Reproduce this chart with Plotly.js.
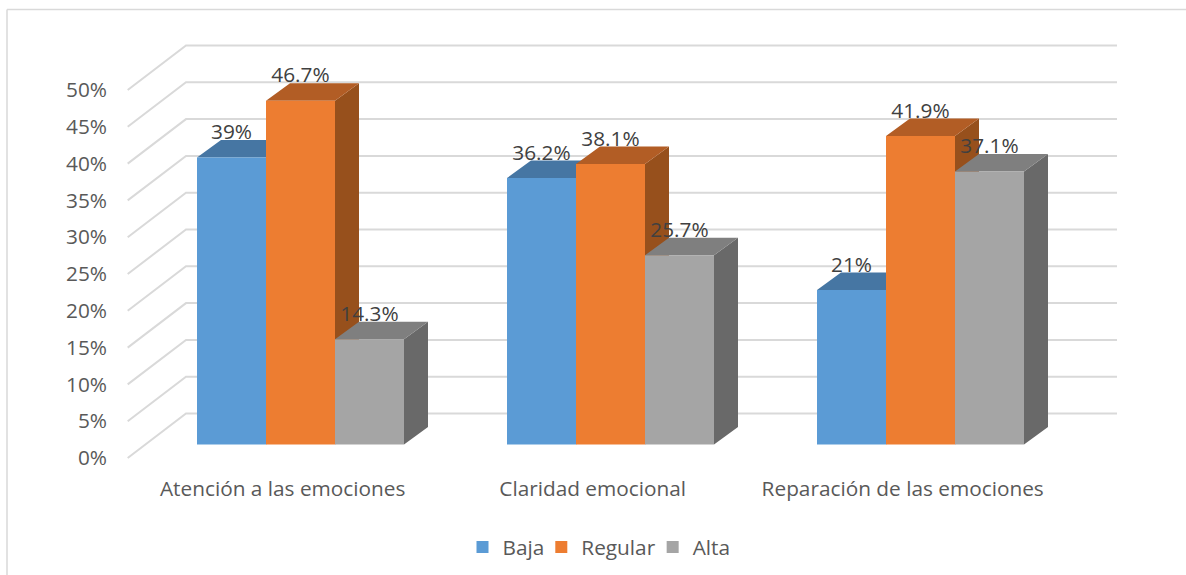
<!DOCTYPE html>
<html>
<head>
<meta charset="utf-8">
<script src="https://cdn.plot.ly/plotly-3.0.1.min.js"></script>
<style>html,body{margin:0;padding:0;background:#fff}#chart{width:1186px;height:575px}</style>
</head>
<body>
<div id="chart"></div>
<script>
const categories = ["Atención a las emociones", "Claridad emocional", "Reparación de las emociones"];
const baja = [39, 36.2, 21];
const regular = [46.7, 38.1, 41.9];
const alta = [14.3, 25.7, 37.1];
const seriesNames = ["Baja", "Regular", "Alta"];
const yTicks = [0, 5, 10, 15, 20, 25, 30, 35, 40, 45, 50];
const yTickLabels = yTicks.map(v => v + "%");
const colors = ["#5b9bd5", "#ed7d31", "#a5a5a5"];
const topColors = ["#4676a3", "#b25d25", "#7f7f7f"];
const sideColors = ["#37618a", "#97501c", "#696969"];

const W = 1186, H = 575, L = 108, R = 1130, T = 30, B = 470;
const pxPerUnit = 310, pxPerPct = 7.36;
const originX = 300.5, barBaseY = 444.5, frontBaseY = 458;
const xOf = px => (px - originX) / pxPerUnit;
const barW = 69 / pxPerUnit, dx = 24 / pxPerUnit, dy = 17.5 / pxPerPct;
const labelLift = 23.5 / pxPerPct;

const all = [baja, regular, alta];
const traces = [];

const gx = [], gy = [];
yTicks.forEach(v => {
  gx.push(xOf(127.7), xOf(186), xOf(1117), null);
  gy.push(v, v + 44.5 / pxPerPct, v + 44.5 / pxPerPct, null);
});
traces.push({type: "scatter", mode: "lines", x: gx, y: gy, yaxis: "y", xaxis: "x",
  line: {color: "#d9d9d9", width: 2}, showlegend: false, hoverinfo: "skip"});

all.forEach((vals, s) => {
  const xs = vals.map((_, i) => i + (s - 1) * barW);
  traces.push({type: "scatter", mode: "text", x: xs, y: vals.map(v => v + labelLift),
    text: vals.map(v => v + "%"), textposition: "middle center",
    textfont: {family: "Open Sans, sans-serif", size: 20.8, color: "#404040"},
    yaxis: "y2", xaxis: "x", showlegend: false, hoverinfo: "skip", cliponaxis: false});
  const sx = [], sy = [], tx = [], ty = [];
  vals.forEach((v, i) => {
    const x1 = xs[i] + barW / 2, x0 = xs[i] - barW / 2;
    sx.push(x1, x1 + dx, x1 + dx, x1, x1, null);
    sy.push(0, dy, v + dy, v, 0, null);
    tx.push(x0, x1, x1 + dx, x0 + dx, x0, null);
    ty.push(v, v, v + dy, v + dy, v, null);
  });
  traces.push({type: "scatter", mode: "none", x: sx, y: sy, fill: "toself", fillcolor: sideColors[s],
    yaxis: "y2", xaxis: "x", showlegend: false, hoverinfo: "skip"});
  traces.push({type: "scatter", mode: "none", x: tx, y: ty, fill: "toself", fillcolor: topColors[s],
    yaxis: "y2", xaxis: "x", showlegend: false, hoverinfo: "skip"});
});

all.forEach((vals, s) => {
  traces.push({type: "bar", name: seriesNames[s], x: vals.map((_, i) => i), y: vals,
    width: barW, offset: (s - 1) * barW - barW / 2, marker: {color: colors[s], line: {width: 0}},
    yaxis: "y3", xaxis: "x", hoverinfo: "skip"});
});

const xr = [xOf(L), xOf(R)];
const frontRange = [(frontBaseY - B) / pxPerPct, (frontBaseY - T) / pxPerPct];
const barRange = [(barBaseY - B) / pxPerPct, (barBaseY - T) / pxPerPct];
const hiddenY = {range: barRange, overlaying: "y", visible: false, showgrid: false, zeroline: false, fixedrange: true};
const px = v => (v - L) / (R - L), py = v => (B - v) / (B - T);
const textFont = {family: "Open Sans, sans-serif", size: 20.8, color: "#595959"};

Plotly.newPlot("chart", traces, {
  width: W, height: H,
  margin: {l: L, r: W - R, t: T, b: H - B, pad: 0},
  paper_bgcolor: "#fff", plot_bgcolor: "rgba(0,0,0,0)",
  barmode: "overlay",
  showlegend: true,
  legend: {orientation: "h", xref: "container", yref: "container", x: 603 / W, xanchor: "center",
    y: 1 - 527 / H, yanchor: "top", font: textFont, traceorder: "normal", indentation: -8},
  xaxis: {range: xr, tickmode: "array", tickvals: categories.map((_, i) => i + xOf(282.7)), ticktext: categories,
    showgrid: false, zeroline: false, showline: false, ticks: "", tickfont: textFont, fixedrange: true,
    ticklabelstandoff: 4},
  yaxis: {range: frontRange, tickmode: "array", tickvals: yTicks, ticktext: yTickLabels,
    showgrid: false, zeroline: false, showline: false, ticks: "", tickfont: textFont, fixedrange: true},
  yaxis2: Object.assign({}, hiddenY),
  yaxis3: Object.assign({}, hiddenY),
  shapes: [
    {type: "line", xref: "paper", yref: "paper", x0: px(7), x1: px(7), y0: py(9.5), y1: py(590), line: {color: "#d9d9d9", width: 1.5}},
    {type: "line", xref: "paper", yref: "paper", x0: px(7), x1: px(1200), y0: py(9.5), y1: py(9.5), line: {color: "#d9d9d9", width: 1.5}}
  ]
}, {displayModeBar: false, staticPlot: true});
</script>
</body>
</html>
